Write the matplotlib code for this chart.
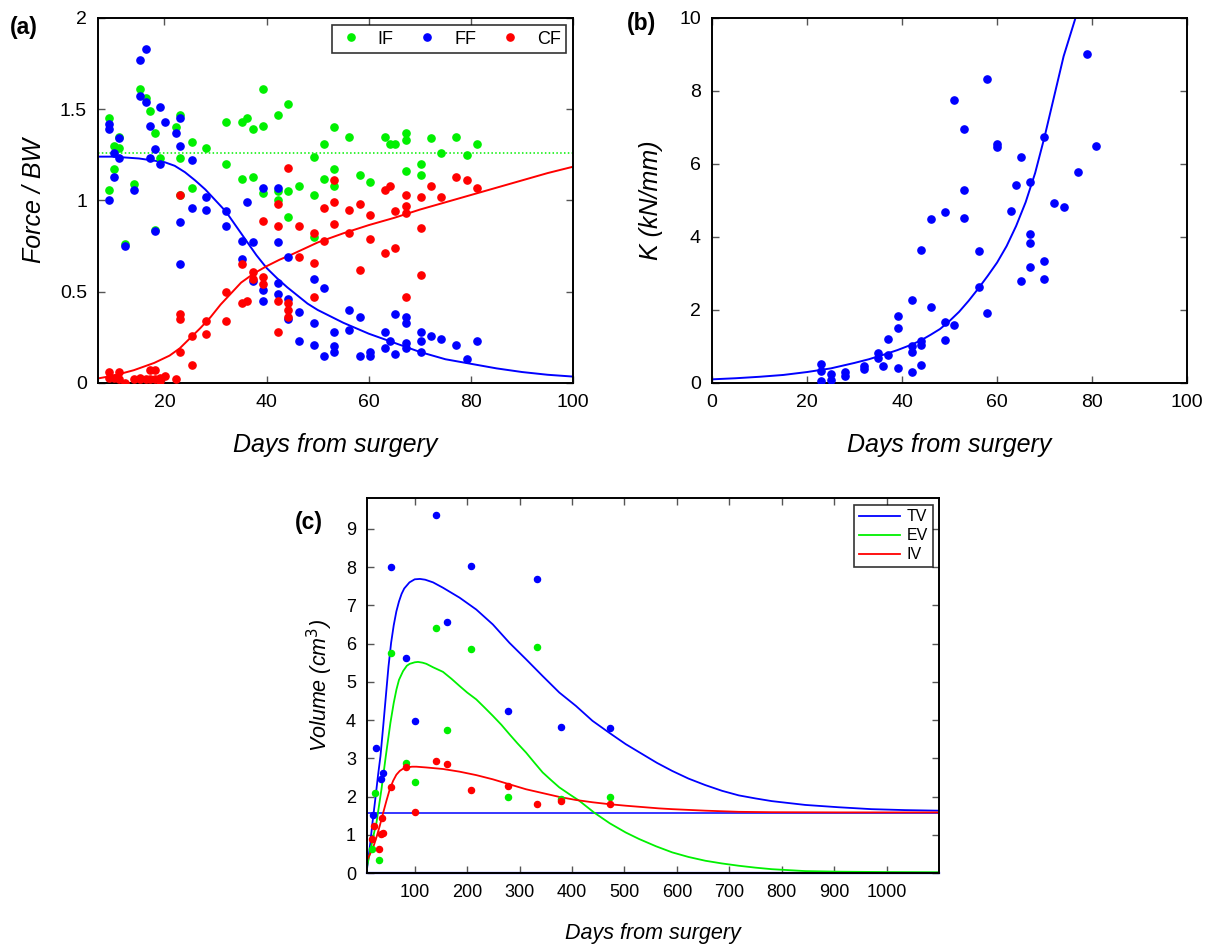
import matplotlib
matplotlib.use("Agg")
import matplotlib.pyplot as plt
from matplotlib.lines import Line2D

plt.rcParams['font.family'] = ['Liberation Sans', 'DejaVu Sans']

GREEN = '#00f000'
BLUE = '#0000ff'
RED = '#ff0000'

# ---- panel (a): forces normalised by body weight ----
if_days = [9.2, 10.2, 11.1, 11.1, 9.2, 10.2, 14.1, 15.2, 16.3, 17.1, 18.2, 19.2, 22.3, 23.1, 23.1,
           25.3, 25.3, 23.1, 28.2, 32.1, 32.1, 35.1, 36.1, 37.3, 39.2, 39.2, 42.2, 44.1, 35.1, 37.3,
           39.2, 42.2, 44.1, 46.3, 49.2, 51.2, 53.1, 53.1, 51.2, 53.1, 49.2, 56.1, 58.3, 60.3, 63.2,
           64.2, 42.2, 67.3, 67.3, 65.2, 72.2, 77.1, 81.2, 79.3, 74.1, 70.3, 70.3, 67.3, 18.2, 12.2,
           44.1, 49.2]
if_vals = [1.45, 1.30, 1.35, 1.29, 1.06, 1.17, 1.09, 1.61, 1.56, 1.49, 1.37, 1.23, 1.40, 1.47, 1.23,
           1.32, 1.07, 1.03, 1.29, 1.43, 1.20, 1.43, 1.45, 1.39, 1.41, 1.61, 1.47, 1.53, 1.12, 1.13,
           1.04, 1.05, 1.05, 1.08, 1.24, 1.31, 1.40, 1.17, 1.12, 1.08, 1.03, 1.35, 1.14, 1.10, 1.35,
           1.31, 1.00, 1.37, 1.33, 1.31, 1.34, 1.35, 1.31, 1.25, 1.26, 1.20, 1.14, 1.16, 0.84, 0.76,
           0.91, 0.80]

ff_days = [9.2, 9.2, 11.1, 10.2, 11.1, 10.2, 14.1, 9.2, 15.2, 16.3, 15.2, 16.3, 17.1, 19.2, 20.1,
           18.2, 17.1, 19.2, 22.3, 23.1, 23.1, 25.3, 12.2, 18.2, 23.1, 25.3, 28.2, 28.2, 23.1, 32.1,
           32.1, 35.1, 37.3, 35.1, 37.3, 36.1, 39.2, 42.2, 39.2, 39.2, 42.2, 42.2, 42.2, 44.1, 44.1,
           44.1, 46.3, 46.3, 49.3, 51.2, 56.1, 58.3, 65.2, 67.3, 67.3, 49.3, 53.1, 56.1, 63.2, 64.2,
           67.3, 67.3, 70.3, 70.3, 70.3, 72.2, 74.1, 77.1, 81.2, 79.3, 49.3, 51.2, 53.1, 53.1, 58.3,
           60.2, 60.2, 63.2, 65.2]
ff_vals = [1.42, 1.39, 1.34, 1.26, 1.23, 1.13, 1.06, 1.00, 1.77, 1.83, 1.57, 1.54, 1.41, 1.51, 1.43,
           1.28, 1.23, 1.20, 1.37, 1.45, 1.30, 1.22, 0.75, 0.83, 0.88, 0.96, 1.02, 0.95, 0.65, 0.94,
           0.86, 0.78, 0.77, 0.68, 0.56, 0.99, 1.07, 1.07, 0.51, 0.45, 0.77, 0.55, 0.49, 0.69, 0.46,
           0.35, 0.39, 0.23, 0.57, 0.52, 0.40, 0.36, 0.38, 0.36, 0.33, 0.33, 0.28, 0.29, 0.28, 0.23,
           0.22, 0.19, 0.28, 0.23, 0.17, 0.26, 0.24, 0.21, 0.23, 0.13, 0.21, 0.15, 0.20, 0.17, 0.15,
           0.17, 0.15, 0.19, 0.16]

cf_days = [44.1, 53.1, 63.2, 64.2, 67.3, 70.3, 72.2, 77.1, 79.3, 81.2, 74.1, 51.3, 53.1, 53.1, 56.1,
           58.3, 60.2, 60.2, 56.1, 49.3, 51.2, 65.2, 67.3, 67.3, 70.3, 63.2, 65.2, 49.3, 58.3, 70.3,
           49.3, 67.3, 9.2, 9.2, 10.2, 11.1, 11.1, 12.2, 14.1, 15.2, 15.2, 16.3, 17.1, 18.2, 17.1,
           18.2, 19.2, 19.2, 20.1, 22.3, 23.1, 23.1, 23.1, 25.3, 25.3, 28.2, 28.2, 32.1, 32.1, 35.1,
           35.1, 36.1, 37.3, 37.3, 39.2, 39.2, 39.2, 42.2, 42.2, 42.2, 42.2, 44.1, 44.1, 44.1, 46.3,
           46.3, 23.1]
cf_vals = [1.18, 1.11, 1.06, 1.08, 1.03, 1.02, 1.08, 1.13, 1.11, 1.07, 1.02, 0.96, 0.99, 0.87, 0.95,
           0.98, 0.92, 0.79, 0.82, 0.82, 0.78, 0.94, 0.97, 0.93, 0.85, 0.71, 0.74, 0.66, 0.62, 0.59,
           0.47, 0.47, 0.06, 0.03, 0.03, 0.06, 0.02, 0.00, 0.02, 0.03, 0.02, 0.02, 0.07, 0.07, 0.02,
           0.02, 0.03, 0.01, 0.04, 0.02, 0.38, 0.35, 0.17, 0.26, 0.10, 0.34, 0.27, 0.50, 0.34, 0.65,
           0.44, 0.45, 0.61, 0.57, 0.58, 0.54, 0.89, 0.98, 0.86, 0.45, 0.28, 0.44, 0.40, 0.36, 0.86,
           0.69, 1.03]

if_mean = 1.26

ff_fit_days = [7, 10, 15, 20, 22, 24, 26, 28, 30, 32, 34, 36, 38, 40, 42, 44, 46, 48, 50, 55, 60,
               65, 70, 75, 80, 85, 90, 95, 100]
ff_fit_vals = [1.24, 1.24, 1.23, 1.21, 1.19, 1.155, 1.11, 1.06, 1.00, 0.94, 0.86, 0.78, 0.70,
               0.63, 0.575, 0.525, 0.48, 0.435, 0.40, 0.33, 0.27, 0.22, 0.17, 0.13, 0.105, 0.08,
               0.06, 0.045, 0.035]

cf_fit_days = [7, 10, 14, 18, 21, 23, 25, 27, 29, 31, 33, 35, 37.5, 40, 42.5, 45, 50, 55, 60, 65,
               70, 75, 80, 85, 90, 95, 100]
cf_fit_vals = [0.025, 0.04, 0.07, 0.11, 0.15, 0.19, 0.245, 0.30, 0.36, 0.43, 0.49, 0.55, 0.60,
               0.64, 0.675, 0.705, 0.77, 0.82, 0.865, 0.905, 0.95, 0.99, 1.03, 1.07, 1.11, 1.15, 1.185]

# ---- panel (b): stiffness ----
k_days = [22.9, 22.9, 22.9, 25.1, 25.1, 27.9, 27.9, 31.9, 31.9, 34.9, 34.9, 36.0, 37.0, 37.0, 39.1,
          39.1, 39.1, 42.0, 42.0, 42.0, 42.0, 43.9, 43.9, 43.9, 43.9, 46.0, 46.0, 49.0, 49.0, 49.0,
          51.0, 51.0, 53.1, 53.1, 53.1, 56.1, 56.1, 57.9, 57.9, 60.0, 60.0, 63.0, 63.9, 65.1, 65.1,
          66.9, 66.9, 66.9, 66.9, 69.9, 69.9, 69.9, 72.0, 74.1, 77.1, 78.9, 80.9]
k_vals = [0.52, 0.34, 0.06, 0.25, 0.09, 0.31, 0.18, 0.47, 0.37, 0.82, 0.68, 0.46, 1.21, 0.76, 1.84,
          1.51, 0.40, 2.28, 1.00, 0.85, 0.31, 3.63, 1.14, 1.03, 0.48, 4.50, 2.07, 4.68, 1.68, 1.18,
          7.74, 1.60, 6.96, 5.28, 4.53, 3.61, 2.62, 8.34, 1.92, 6.55, 6.46, 4.70, 5.41, 6.18, 2.79,
          5.50, 4.08, 3.84, 3.18, 6.73, 3.33, 2.86, 4.92, 4.83, 5.79, 9.00, 6.48]

k_fit_days = [0, 5, 10, 15, 20, 25, 30, 33, 36, 39, 42, 44, 46, 48, 50, 52, 54, 56, 58, 60, 62,
              64, 66, 68, 70, 72, 74, 76.5, 78]
k_fit_vals = [0.10, 0.13, 0.17, 0.22, 0.30, 0.40, 0.55, 0.65, 0.77, 0.90, 1.05, 1.17, 1.32, 1.48,
              1.70, 1.95, 2.25, 2.58, 2.93, 3.30, 3.75, 4.30, 4.95, 5.75, 6.75, 7.85, 8.95, 10.0,
              10.9]

# ---- panel (c): volumes ----
tv_days = [19.6, 25.3, 36.6, 39.2, 54.4, 82.9, 100, 140, 162, 206.5, 278.7, 332.6, 379.5, 472.6]
tv_vals = [1.52, 3.28, 2.45, 2.61, 8.00, 5.63, 3.98, 9.35, 6.57, 8.04, 4.24, 7.70, 3.81, 3.79]
ev_days = [17.6, 24, 31.6, 54.4, 82.9, 100, 140, 162, 206.5, 278.7, 332.6, 379.5, 472.6]
ev_vals = [0.63, 2.08, 0.35, 5.76, 2.87, 2.37, 6.41, 3.74, 5.85, 1.98, 5.90, 1.93, 1.98]
iv_days = [18.3, 22.7, 31, 35.4, 38.5, 39.8, 54.4, 82.9, 100, 140, 162, 206.5, 278.7, 332.6,
           379.5, 472.6]
iv_vals = [0.90, 1.22, 0.63, 1.03, 1.45, 1.05, 2.25, 2.76, 1.60, 2.92, 2.85, 2.18, 2.27, 1.81,
           1.89, 1.81]

tv_fit_days = [9.4, 15, 19.5, 25, 30, 34.7, 40, 46.1, 50, 55, 60, 65, 70, 75, 80, 90, 100, 110,
               120, 135, 153.9, 185.6, 217.4, 249, 280.6, 312.3, 344, 375.7, 407.4, 439, 470.7,
               502.4, 534, 562, 591, 622, 654, 686, 718, 750, 781, 845, 908, 971, 1035, 1100]
tv_fit_vals = [0.15, 0.75, 1.32, 1.95, 2.55, 3.06, 3.85, 4.80, 5.40, 6.02, 6.48, 6.84, 7.10, 7.30,
               7.44, 7.60, 7.68, 7.69, 7.67, 7.60, 7.46, 7.20, 6.89, 6.50, 6.02, 5.59, 5.15, 4.72,
               4.37, 3.98, 3.67, 3.37, 3.11, 2.88, 2.67, 2.47, 2.30, 2.15, 2.03, 1.95, 1.88, 1.78,
               1.72, 1.67, 1.645, 1.63]
ev_fit_days = [9.4, 15, 20, 27.1, 36.6, 44.9, 53.7, 60, 65.2, 70, 77.8, 85, 90.5, 100, 106.3,
               115, 122.2, 135, 153.9, 170, 185.6, 200, 217.4, 233, 249, 265, 280.6, 296, 312.3,
               328, 344, 360, 375.7, 395, 413.8, 442.2, 472, 502.4, 527.8, 560, 591, 622, 654.5,
               686, 717.9, 750, 781, 845, 908, 1000, 1100]
ev_fit_vals = [0.19, 0.55, 0.90, 1.32, 2.19, 3.06, 3.93, 4.45, 4.80, 5.05, 5.28, 5.42, 5.47, 5.51,
               5.52, 5.50, 5.47, 5.38, 5.26, 5.08, 4.89, 4.72, 4.54, 4.33, 4.11, 3.88, 3.63, 3.39,
               3.15, 2.89, 2.63, 2.43, 2.24, 2.06, 1.89, 1.58, 1.30, 1.06, 0.89, 0.70, 0.54, 0.42,
               0.32, 0.25, 0.19, 0.14, 0.10, 0.05, 0.035, 0.025, 0.02]
iv_fit_days = [9.4, 15, 20.8, 27, 33.5, 40, 46.1, 52, 58.8, 65, 71.5, 78, 84.2, 95, 103.2, 122.2,
               153.9, 185.6, 217.4, 249, 280.6, 312.3, 344, 375.7, 407.4, 439, 470.7, 502.4,
               565.8, 591, 654.5, 718, 781, 908, 1100]
iv_fit_vals = [0.35, 0.50, 0.67, 0.93, 1.24, 1.58, 1.89, 2.17, 2.41, 2.57, 2.67, 2.73, 2.76, 2.78,
               2.78, 2.76, 2.72, 2.65, 2.56, 2.45, 2.32, 2.19, 2.09, 1.99, 1.91, 1.85, 1.80, 1.76,
               1.69, 1.67, 1.63, 1.60, 1.59, 1.585, 1.585]
tv_baseline = 1.57


def style_axes(ax, size):
    ax.tick_params(direction='in', top=True, right=True, length=5, width=1,
                   color='#555555', labelsize=size, pad=8)
    for sp in ax.spines.values():
        sp.set_linewidth(1.4)


fig = plt.figure(figsize=(12.12, 9.44), dpi=100)

# (a)
ax_a = fig.add_axes([0.0809, 0.5943, 0.392, 0.3867])
ax_a.axhline(if_mean, color=GREEN, linestyle=(0, (1, 1.5)), linewidth=1.1, zorder=1)
ax_a.plot(ff_fit_days, ff_fit_vals, color=BLUE, linewidth=1.4, zorder=2)
ax_a.plot(cf_fit_days, cf_fit_vals, color=RED, linewidth=1.4, zorder=2)
ax_a.plot(if_days, if_vals, 'o', color=GREEN, markersize=5.2, zorder=3)
ax_a.plot(ff_days, ff_vals, 'o', color=BLUE, markersize=5.2, zorder=3)
ax_a.plot(cf_days, cf_vals, 'o', color=RED, markersize=5.2, zorder=3)
ax_a.set_xlim(7, 100)
ax_a.set_ylim(0, 2)
ax_a.set_xticks([20, 40, 60, 80, 100])
ax_a.set_yticks([0, 0.5, 1, 1.5, 2])
ax_a.set_yticklabels(['0', '0.5', '1', '1.5', '2'])
ax_a.set_xlabel('Days from surgery', fontsize=18, style='italic', labelpad=16)
ax_a.set_ylabel('Force / BW', fontsize=18, style='italic', labelpad=10)
style_axes(ax_a, 14)
handles_a = [Line2D([], [], marker='o', color=c, linestyle='None', markersize=5.2) for c in (GREEN, BLUE, RED)]
leg_a = ax_a.legend(handles_a, ['IF', 'FF', 'CF'], ncol=3, loc='upper right', fontsize=13,
                    frameon=True, fancybox=False, edgecolor='black', handlelength=1.5,
                    handletextpad=0.75, columnspacing=1.1, borderpad=0.3, borderaxespad=0.4)
leg_a.get_frame().set_linewidth(1.2)
fig.text(0.008, 0.971, '(a)', fontsize=16.5, fontweight='bold', va='center')

# (b)
ax_b = fig.add_axes([0.5875, 0.5943, 0.392, 0.3867])
ax_b.plot(k_fit_days, k_fit_vals, color=BLUE, linewidth=1.4, zorder=2)
ax_b.plot(k_days, k_vals, 'o', color=BLUE, markersize=5.2, zorder=3)
ax_b.set_xlim(0, 100)
ax_b.set_ylim(0, 10)
ax_b.set_xticks([0, 20, 40, 60, 80, 100])
ax_b.set_yticks([0, 2, 4, 6, 8, 10])
ax_b.set_xlabel('Days from surgery', fontsize=18, style='italic', labelpad=16)
ax_b.set_ylabel('K (kN/mm)', fontsize=18, style='italic', labelpad=12)
style_axes(ax_b, 14)
fig.text(0.517, 0.975, '(b)', fontsize=16.5, fontweight='bold', va='center')

# (c)
ax_c = fig.add_axes([0.3028, 0.0752, 0.472, 0.397])
ax_c.axhline(tv_baseline, color=BLUE, linewidth=1.1, zorder=1)
ax_c.axhline(0, color=BLUE, linewidth=1.6, zorder=1, clip_on=False)
ax_c.plot(tv_fit_days, tv_fit_vals, color=BLUE, linewidth=1.3, label='TV', zorder=2)
ax_c.plot(ev_fit_days, ev_fit_vals, color=GREEN, linewidth=1.3, label='EV', zorder=2)
ax_c.plot(iv_fit_days, iv_fit_vals, color=RED, linewidth=1.3, label='IV', zorder=2)
ax_c.plot(tv_days, tv_vals, 'o', color=BLUE, markersize=4.4, zorder=3)
ax_c.plot(ev_days, ev_vals, 'o', color=GREEN, markersize=4.4, zorder=3)
ax_c.plot(iv_days, iv_vals, 'o', color=RED, markersize=4.4, zorder=3)
ax_c.set_xlim(9, 1100)
ax_c.set_ylim(0, 9.8)
ax_c.set_xticks(range(100, 1001, 100))
ax_c.set_yticks(range(0, 10))
ax_c.set_xlabel('Days from surgery', fontsize=15.5, style='italic', labelpad=16)
ax_c.set_ylabel('Volume (cm$^3$)', fontsize=15.5, style='italic', labelpad=8)
style_axes(ax_c, 13)
leg_c = ax_c.legend(loc='upper right', fontsize=11.5, frameon=True, fancybox=False,
                    edgecolor='black', handlelength=2.6, handletextpad=0.4,
                    labelspacing=0.25, borderpad=0.3, borderaxespad=0.4)
leg_c.get_frame().set_linewidth(1.2)
fig.text(0.243, 0.446, '(c)', fontsize=16.5, fontweight='bold', va='center')

fig.savefig('out.png', dpi=100)
